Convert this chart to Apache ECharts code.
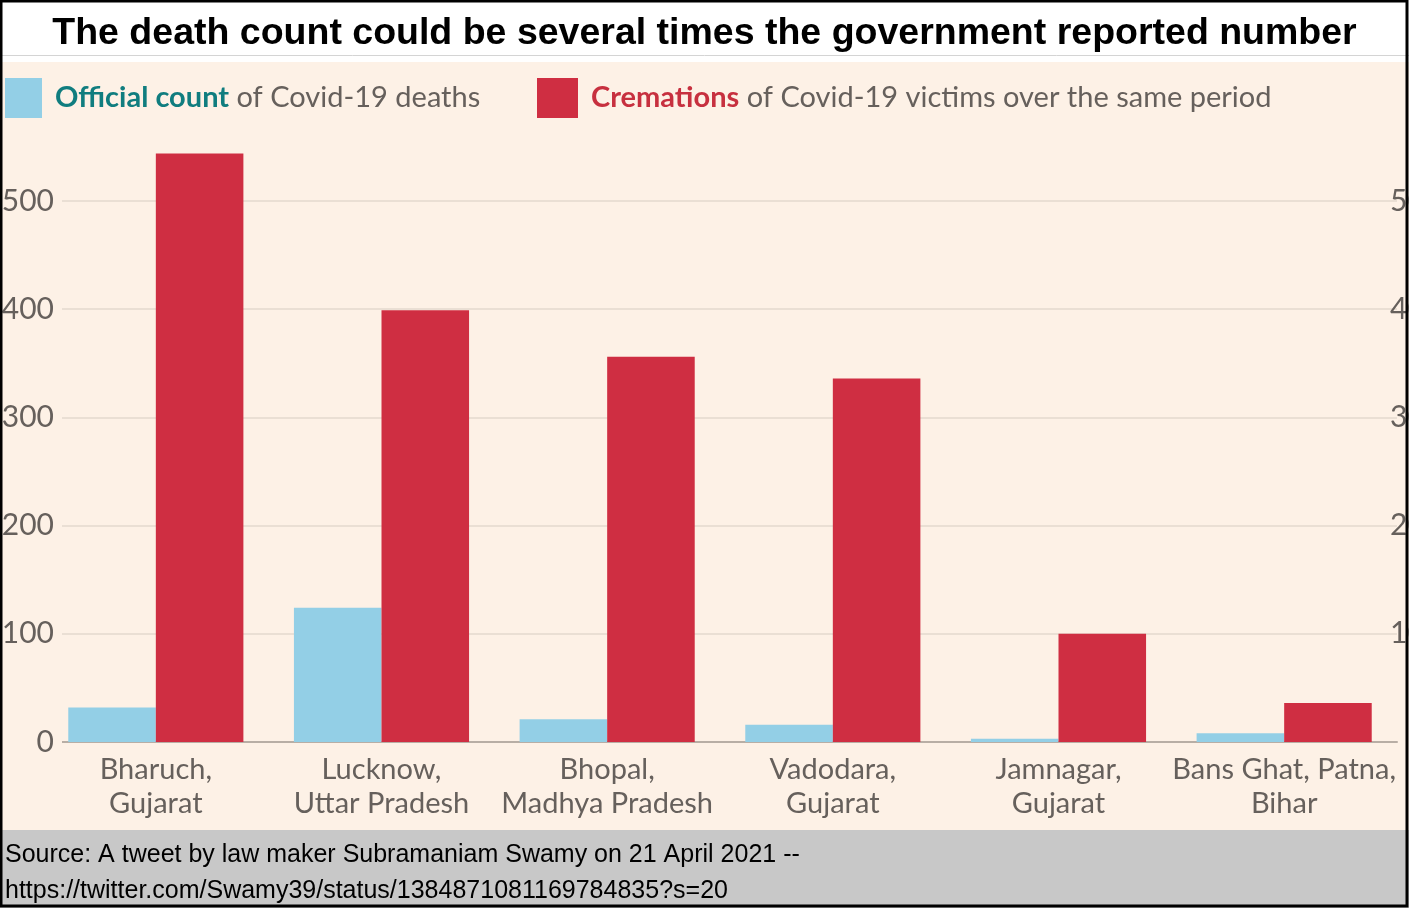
<!DOCTYPE html>
<html>
<head>
    <meta charset="UTF-8">
    <title>Death count vs cremations</title>
    <style type="text/css">
        *{ margin: 0; padding: 0; }
        #main{ width: 1409px; height: 908px; }
    </style>
    <script src="https://cdn.jsdelivr.net/npm/echarts@6/dist/echarts.min.js"></script>
</head>
<body>
<div id="main"></div>
<script type="text/javascript">
    // data
    var cities = ['Bharuch,\nGujarat', 'Lucknow,\nUttar Pradesh', 'Bhopal,\nMadhya Pradesh',
                  'Vadodara,\nGujarat', 'Jamnagar,\nGujarat', 'Bans Ghat, Patna,\nBihar'];
    var officialCount = [32, 124, 21, 16, 3, 8];
    var cremations = [544, 399, 356, 336, 100, 36];
    var yTicks = [0, 100, 200, 300, 400, 500, 600];

    var beige = '#fdf1e6';
    var grey = '#66605c';
    var font = 'Lato, "Noto Sans", sans-serif';

    var myChart = echarts.init(document.getElementById('main'));

    var option = {
        backgroundColor: beige,
        animation: false,
        title: [
            {
                text: 'The death count could be several times the government reported number',
                left: 'center',
                top: 10,
                textStyle: { fontFamily: '"Liberation Sans", sans-serif', fontSize: 37.5, fontWeight: 'bold', color: '#000' }
            },
            {
                text: 'Source: A tweet by law maker Subramaniam Swamy on 21 April 2021 --\nhttps://twitter.com/Swamy39/status/1384871081169784835?s=20',
                left: 0,
                top: 832,
                textStyle: { fontFamily: '"Liberation Sans", sans-serif', fontSize: 25, fontWeight: 'normal', color: '#000', lineHeight: 36 }
            }
        ],
        legend: [
            {
                left: 5, top: 78, padding: 0,
                icon: 'rect', itemWidth: 37, itemHeight: 40,
                data: ['Official count'],
                formatter: '{b|Official count}{n| of Covid-19 deaths}',
                textStyle: {
                    padding: [0, 0, 0, 8],
                    rich: {
                        b: { fontFamily: font, fontSize: 29, fontWeight: 'bold', color: '#107d7f' },
                        n: { fontFamily: font, fontSize: 29, color: grey }
                    }
                }
            },
            {
                left: 537, top: 78, padding: 0,
                icon: 'rect', itemWidth: 41, itemHeight: 40,
                data: ['Cremations'],
                formatter: '{b|Cremations}{n| of Covid-19 victims over the same period}',
                textStyle: {
                    padding: [0, 0, 0, 8],
                    rich: {
                        b: { fontFamily: font, fontSize: 29, fontWeight: 'bold', color: '#c7303f' },
                        n: { fontFamily: font, fontSize: 29, color: grey }
                    }
                }
            }
        ],
        grid: { left: 43, right: 12, top: 742 - 6 * 108.2, bottom: 908 - 742, outerBoundsMode: 'none' },
        xAxis: {
            type: 'category',
            data: cities,
            axisTick: { show: false },
            axisLine: { lineStyle: { color: '#b8aea5', width: 2 } },
            axisLabel: { fontFamily: font, fontSize: 29, color: grey, lineHeight: 34, margin: 11, interval: 0 }
        },
        yAxis: [
            {
                type: 'value',
                min: yTicks[0], max: yTicks[yTicks.length - 1], interval: 100,
                axisLine: { show: false },
                axisTick: { show: false },
                splitLine: { lineStyle: { color: ['#eadfd4', '#eadfd4', '#eadfd4', '#eadfd4', '#eadfd4', '#eadfd4', 'rgba(0,0,0,0)'], width: 2 } },
                axisLabel: {
                    showMaxLabel: false,
                    fontFamily: font, fontSize: 30, color: grey,
                    margin: -19, align: 'right',
                    backgroundColor: beige, padding: [2, 8, 2, 4]
                }
            },
            {
                type: 'value', position: 'right',
                min: yTicks[0], max: yTicks[yTicks.length - 1], interval: 100,
                axisLine: { show: false },
                axisTick: { show: false },
                splitLine: { show: false },
                axisLabel: {
                    showMinLabel: false, showMaxLabel: false,
                    fontFamily: font, fontSize: 30, color: grey,
                    margin: -7, align: 'left'
                }
            }
        ],
        series: [
            {
                name: 'Official count',
                type: 'bar',
                barGap: 0,
                barCategoryGap: '22.4%',
                itemStyle: { color: '#93cfe6' },
                data: officialCount
            },
            {
                name: 'Cremations',
                type: 'bar',
                itemStyle: { color: '#cf2e42' },
                data: cremations
            }
        ],
        graphic: [
            { type: 'rect', silent: true, z: 1, shape: { x: 0, y: 0, width: 1409, height: 62 }, style: { fill: '#fff' } },
            { type: 'line', silent: true, z: 1, shape: { x1: 0, y1: 55.5, x2: 1409, y2: 55.5 }, style: { stroke: '#d4d4d4', lineWidth: 1 } },
            { type: 'rect', silent: true, z: 1, shape: { x: 0, y: 830, width: 1409, height: 78 }, style: { fill: '#c8c8c8' } },
            { type: 'rect', silent: true, z: 100, shape: { x: 1, y: 1, width: 1406, height: 905 }, style: { fill: 'none', stroke: '#000', lineWidth: 3 } }
        ]
    };

    myChart.setOption(option);
</script>
</body>
</html>
